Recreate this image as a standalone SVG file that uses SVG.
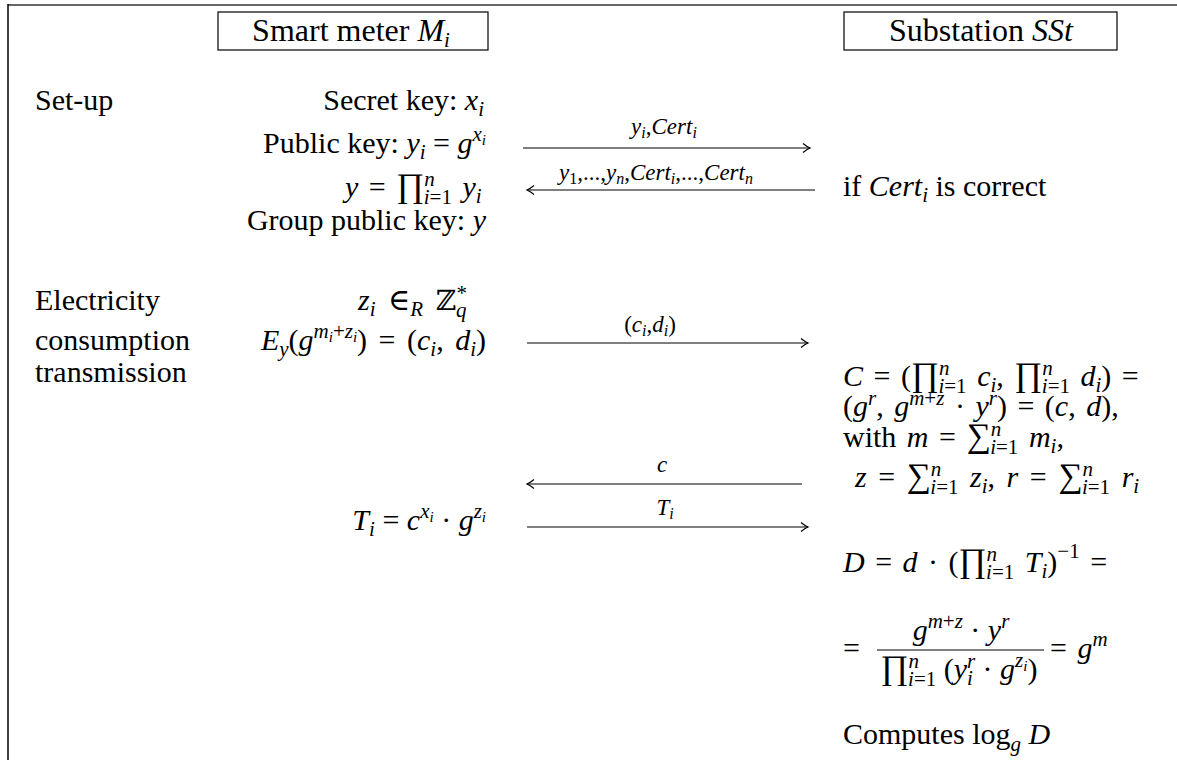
<svg xmlns="http://www.w3.org/2000/svg" width="1177" height="760" viewBox="0 0 1177 760" font-family="Liberation Serif, DejaVu Serif, serif">
<style>
.t{font-size:30px;fill:#000}
.h{font-size:32px;fill:#000}
.i{font-style:italic}
.s{font-size:21px}
.ss{font-size:15px}
.l{font-size:23px;fill:#000}
.ls{font-size:16px}
.op{font-size:34px}
.m{word-spacing:3px}
.box{fill:#fff;stroke:#000;stroke-width:1.2}
.arr{stroke:#000;stroke-width:1.2;fill:none}
</style>
<defs>
<marker id="ah" markerUnits="userSpaceOnUse" markerWidth="14" markerHeight="14" refX="10" refY="7" orient="auto">
<path d="M3,2.5 Q7,5.8 10,7 Q7,8.2 3,11.5" fill="none" stroke="#000" stroke-width="1.2"/>
</marker>
</defs>
<rect width="1177" height="760" fill="#fff"/>
<line x1="8" y1="5" x2="1177" y2="5" stroke="#666" stroke-width="2"/>
<line x1="8" y1="4" x2="8" y2="760" stroke="#000" stroke-width="1.5"/>

<g id="meter">
<rect class="box" x="218" y="12" width="270" height="38"/>
<text class="h" x="351" y="41" text-anchor="middle">Smart meter <tspan class="i">M</tspan><tspan class="s i" baseline-shift="-6">i</tspan></text>
</g>
<g id="substation">
<rect class="box" x="844" y="12" width="273" height="38"/>
<text class="h" x="981" y="41" text-anchor="middle">Substation <tspan class="i">SSt</tspan></text>
</g>

<g id="setup">
<text class="t" x="35" y="110">Set-up</text>
<text class="t" x="484" y="110" text-anchor="end">Secret key: <tspan class="i">x</tspan><tspan class="s i" baseline-shift="-6">i</tspan></text>
<text class="t" x="486" y="153" text-anchor="end">Public key: <tspan class="i">y</tspan><tspan class="s i" baseline-shift="-6">i</tspan> = <tspan class="i">g</tspan><tspan class="s i" baseline-shift="12">x</tspan><tspan class="ss i" baseline-shift="8">i</tspan></text>
<text class="t m" x="345" y="197"><tspan class="i">y</tspan> = <tspan class="op">∏</tspan><tspan class="s i" baseline-shift="11">n</tspan><tspan class="s" dx="-11" baseline-shift="-7"><tspan class="i">i</tspan>=1</tspan> <tspan class="i">y</tspan><tspan class="s i" baseline-shift="-6">i</tspan></text>
<text class="t" x="486" y="230" text-anchor="end">Group public key: <tspan class="i">y</tspan></text>
<text class="t" x="843" y="196">if <tspan class="i">Cert</tspan><tspan class="s i" baseline-shift="-6">i</tspan> is correct</text>
</g>

<g id="consumption">
<text class="t" x="35" y="310">Electricity</text>
<text class="t" x="35" y="350">consumption</text>
<text class="t" x="35" y="382">transmission</text>
<text class="t" x="358" y="310" word-spacing="5"><tspan class="i">z</tspan><tspan class="s i" baseline-shift="-6">i</tspan> ∈<tspan class="s i" baseline-shift="-6">R</tspan> <tspan font-family="DejaVu Serif, serif" font-size="28">ℤ</tspan><tspan class="s i" baseline-shift="-7">q</tspan><tspan class="s" dx="-10" baseline-shift="10">*</tspan></text>
<text class="t" x="486" y="350" text-anchor="end" word-spacing="4"><tspan class="i">E</tspan><tspan class="s i" baseline-shift="-6">y</tspan>(<tspan class="i">g</tspan><tspan class="s i" baseline-shift="12">m</tspan><tspan class="ss i" baseline-shift="8">i</tspan><tspan class="s" baseline-shift="12">+<tspan class="i">z</tspan></tspan><tspan class="ss i" baseline-shift="8">i</tspan>) = (<tspan class="i">c</tspan><tspan class="s i" baseline-shift="-6">i</tspan>, <tspan class="i">d</tspan><tspan class="s i" baseline-shift="-6">i</tspan>)</text>
<text class="t" x="486" y="530" text-anchor="end"><tspan class="i">T</tspan><tspan class="s i" baseline-shift="-6">i</tspan> = <tspan class="i">c</tspan><tspan class="s i" baseline-shift="12">x</tspan><tspan class="ss i" baseline-shift="8">i</tspan> · <tspan class="i">g</tspan><tspan class="s i" baseline-shift="12">z</tspan><tspan class="ss i" baseline-shift="8">i</tspan></text>
</g>

<g id="aggregation">
<text class="t m" x="843" y="386"><tspan class="i">C</tspan> = (<tspan class="op">∏</tspan><tspan class="s i" baseline-shift="11">n</tspan><tspan class="s" dx="-11" baseline-shift="-7"><tspan class="i">i</tspan>=1</tspan> <tspan class="i">c</tspan><tspan class="s i" baseline-shift="-6">i</tspan>, <tspan class="op">∏</tspan><tspan class="s i" baseline-shift="11">n</tspan><tspan class="s" dx="-11" baseline-shift="-7"><tspan class="i">i</tspan>=1</tspan> <tspan class="i">d</tspan><tspan class="s i" baseline-shift="-6">i</tspan>) =</text>
<text class="t m" x="843" y="416">(<tspan class="i">g</tspan><tspan class="s i" baseline-shift="11">r</tspan>, <tspan class="i">g</tspan><tspan class="s" baseline-shift="11"><tspan class="i">m</tspan>+<tspan class="i">z</tspan></tspan> · <tspan class="i">y</tspan><tspan class="s i" baseline-shift="11">r</tspan>) = (<tspan class="i">c</tspan>, <tspan class="i">d</tspan>),</text>
<text class="t m" x="843" y="447">with <tspan class="i">m</tspan> = <tspan class="op">∑</tspan><tspan class="s i" baseline-shift="11">n</tspan><tspan class="s" dx="-11" baseline-shift="-7"><tspan class="i">i</tspan>=1</tspan> <tspan class="i">m</tspan><tspan class="s i" baseline-shift="-6">i</tspan>,</text>
<text class="t" x="855" y="487" word-spacing="4"><tspan class="i">z</tspan> = <tspan class="op">∑</tspan><tspan class="s i" baseline-shift="11">n</tspan><tspan class="s" dx="-11" baseline-shift="-7"><tspan class="i">i</tspan>=1</tspan> <tspan class="i">z</tspan><tspan class="s i" baseline-shift="-6">i</tspan>, <tspan class="i">r</tspan> = <tspan class="op">∑</tspan><tspan class="s i" baseline-shift="11">n</tspan><tspan class="s" dx="-11" baseline-shift="-7"><tspan class="i">i</tspan>=1</tspan> <tspan class="i">r</tspan><tspan class="s i" baseline-shift="-6">i</tspan></text>
</g>

<g id="decryption">
<text class="t m" x="843" y="572"><tspan class="i">D</tspan> = <tspan class="i">d</tspan> · (<tspan class="op">∏</tspan><tspan class="s i" baseline-shift="11">n</tspan><tspan class="s" dx="-11" baseline-shift="-7"><tspan class="i">i</tspan>=1</tspan> <tspan class="i">T</tspan><tspan class="s i" baseline-shift="-6">i</tspan>)<tspan class="s" baseline-shift="14">−1</tspan> =</text>
<text class="t" x="843" y="658">=</text>
<text class="t" x="961" y="640" text-anchor="middle"><tspan class="i">g</tspan><tspan class="s" baseline-shift="12"><tspan class="i">m</tspan>+<tspan class="i">z</tspan></tspan> · <tspan class="i">y</tspan><tspan class="s i" baseline-shift="12">r</tspan></text>
<line x1="877" y1="650" x2="1044" y2="650" stroke="#000" stroke-width="1.2"/>
<text class="t" x="959" y="679" text-anchor="middle"><tspan class="op">∏</tspan><tspan class="s i" baseline-shift="11">n</tspan><tspan class="s" dx="-11" baseline-shift="-7"><tspan class="i">i</tspan>=1</tspan> (<tspan class="i">y</tspan><tspan class="s i" baseline-shift="-6">i</tspan><tspan class="s i" dx="-6" baseline-shift="11">r</tspan> · <tspan class="i">g</tspan><tspan class="s i" baseline-shift="12">z</tspan><tspan class="ss i" baseline-shift="8">i</tspan>)</text>
<text class="t m" x="1050" y="658">= <tspan class="i">g</tspan><tspan class="s i" baseline-shift="12">m</tspan></text>
<text class="t" x="843" y="744">Computes log<tspan class="s i" baseline-shift="-7">g</tspan> <tspan class="i">D</tspan></text>
</g>

<g id="connectors">
<line class="arr" x1="523" y1="148" x2="810" y2="148" marker-end="url(#ah)"/>
<text class="l" x="664" y="134" text-anchor="middle"><tspan class="i">y</tspan><tspan class="ls i" baseline-shift="-4">i</tspan>,<tspan class="i">Cert</tspan><tspan class="ls i" baseline-shift="-4">i</tspan></text>
<line class="arr" x1="815" y1="190" x2="527" y2="190" marker-end="url(#ah)"/>
<text class="l" x="656" y="180" text-anchor="middle"><tspan class="i">y</tspan><tspan class="ls" baseline-shift="-4">1</tspan>,...,<tspan class="i">y</tspan><tspan class="ls i" baseline-shift="-4">n</tspan>,<tspan class="i">Cert</tspan><tspan class="ls i" baseline-shift="-4">i</tspan>,...,<tspan class="i">Cert</tspan><tspan class="ls i" baseline-shift="-4">n</tspan></text>
<line class="arr" x1="527" y1="343" x2="808" y2="343" marker-end="url(#ah)"/>
<text class="l" x="650" y="332" text-anchor="middle">(<tspan class="i">c</tspan><tspan class="ls i" baseline-shift="-4">i</tspan>,<tspan class="i">d</tspan><tspan class="ls i" baseline-shift="-4">i</tspan>)</text>
<line class="arr" x1="802" y1="484" x2="527" y2="484" marker-end="url(#ah)"/>
<text class="l i" x="662" y="472" text-anchor="middle">c</text>
<line class="arr" x1="527" y1="527" x2="808" y2="527" marker-end="url(#ah)"/>
<text class="l" x="665" y="515" text-anchor="middle"><tspan class="i">T</tspan><tspan class="ls i" baseline-shift="-4">i</tspan></text>
</g>
</svg>
